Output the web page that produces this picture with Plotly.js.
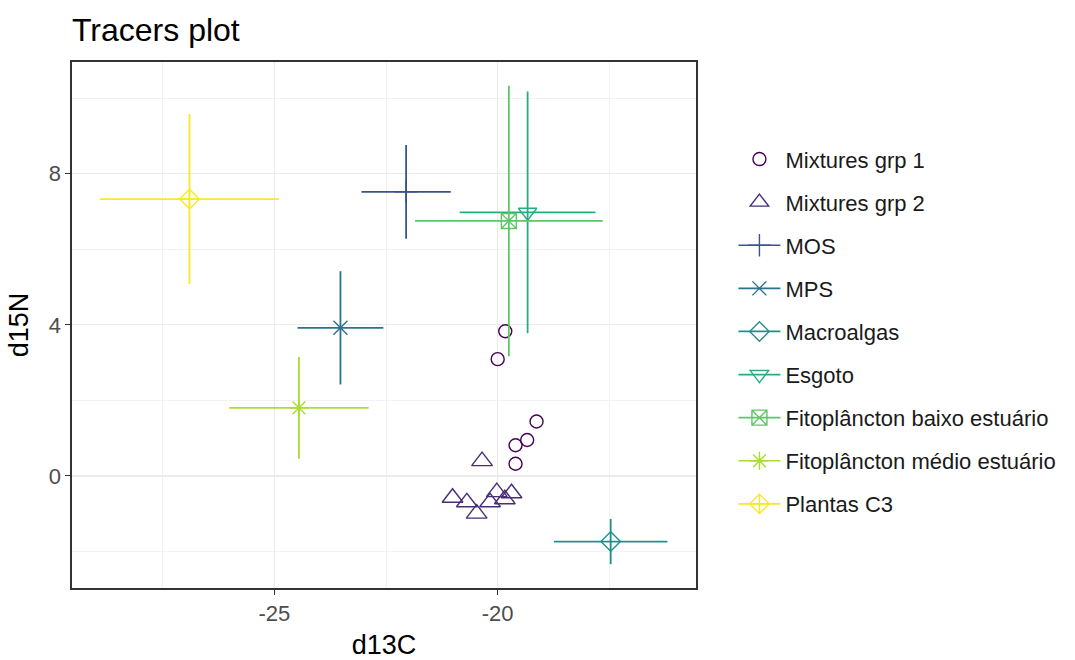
<!DOCTYPE html>
<html>
<head>
<meta charset="utf-8">
<script src="https://cdn.plot.ly/plotly-3.0.1.min.js"></script>
<style>html,body{margin:0;padding:0;background:#fff;}#chart{width:1075px;height:660px;}</style>
</head>
<body>
<div id="chart"></div>
<script>
// Mixtures
var mix1C = [-19.83, -20.0, -19.13, -19.34, -19.6, -19.6];
var mix1N = [3.83, 3.09, 1.44, 0.95, 0.81, 0.32];
var mix2C = [-20.35, -21.01, -20.69, -20.47, -20.17, -20.02, -19.84, -19.69];
var mix2N = [0.39, -0.58, -0.70, -1.0, -0.70, -0.43, -0.62, -0.46];

// Sources (mean ± SD)
var sourceNames = ["MOS", "MPS", "Macroalgas", "Esgoto", "Fitoplâncton baixo estuário", "Fitoplâncton médio estuário", "Plantas C3"];
var meanC = [-22.05, -23.52, -17.47, -19.33, -19.75, -24.45, -26.9];
var sdC   = [1.0, 0.96, 1.27, 1.52, 2.1, 1.56, 2.0];
var meanN = [7.52, 3.92, -1.74, 6.98, 6.75, 1.8, 7.33];
var sdN   = [1.24, 1.5, 0.6, 3.2, 3.58, 1.35, 2.25];

// Tick labels
var xTickVals = [-25, -20];
var xTickText = ["-25", "-20"];
var yTickVals = [0, 4, 8];
var yTickText = ["0", "4", "8"];
var xMinorVals = [-27.5, -22.5, -17.5];
var yMinorVals = [-2, 2, 6, 10];

var colors = ["#440154", "#472D7B", "#3B528B", "#2C728E", "#21908C", "#27AD81", "#5DC863", "#AADC32", "#FDE725"];
var symbols = ["cross-thin-open", "x-thin-open", "diamond-open", "triangle-down-open", "square-x-open", "asterisk-open", "diamond-cross-open"];
var sizes = [16, 14, 15, 16, 15, 15, 15];

var traces = [];
traces.push({
  x: mix1C, y: mix1N, type: "scatter", mode: "markers", name: "Mixtures grp 1", legendgroup: "g0",
  marker: {symbol: "circle-open", size: 13, color: colors[0], line: {width: 1.4, color: colors[0]}}
});
traces.push({
  x: mix2C, y: mix2N, type: "scatter", mode: "markers", name: "Mixtures grp 2", legendgroup: "g1",
  marker: {symbol: "triangle-up-open", size: 18, color: colors[1], line: {width: 1.4, color: colors[1]}}
});
for (var i = 0; i < sourceNames.length; i++) {
  var c = colors[i + 2];
  traces.push({
    x: [meanC[i]], y: [meanN[i]], type: "scatter", mode: "lines+markers", name: sourceNames[i],
    legendgroup: "s" + i,
    line: {color: c, width: 1.7},
    marker: {symbol: symbols[i], size: sizes[i], color: c, line: {width: 1.4, color: c}},
    error_x: {type: "data", array: [sdC[i]], visible: true, color: c, thickness: 1.8, width: 0},
    error_y: {type: "data", array: [sdN[i]], visible: true, color: c, thickness: 1.8, width: 0}
  });
}

var layout = {
  width: 1075, height: 660,
  paper_bgcolor: "#fff", plot_bgcolor: "#fff",
  margin: {l: 72, r: 379, t: 62, b: 72},
  font: {family: "Liberation Sans, Arial, sans-serif", color: "#000"},
  title: {text: "Tracers plot", x: 72/1075, xanchor: "left", xref: "container", y: 0.955, yref: "container", yanchor: "middle",
          font: {size: 32, color: "#000"}},
  showlegend: true,
  legend: {x: 1.06, xanchor: "left", y: 0.855, yanchor: "top", font: {size: 22, color: "#1a1a1a"},
           tracegroupgap: 11.5, bgcolor: "rgba(0,0,0,0)", itemwidth: 42},
  xaxis: {
    range: [-29.53, -15.56], tickmode: "array", tickvals: xTickVals, ticktext: xTickText,
    showgrid: true, gridcolor: "#ebebeb", gridwidth: 1.3,
    minor: {tickmode: "array", tickvals: xMinorVals, showgrid: true, gridcolor: "#f2f2f2", gridwidth: 1, ticks: ""},
    zeroline: false, ticks: "outside", ticklen: 5, tickcolor: "#333", tickwidth: 1.2,
    showline: true, mirror: true, linecolor: "#333", linewidth: 1.6,
    tickfont: {size: 22, color: "#4d4d4d"},
    title: {text: "d13C", font: {size: 27, color: "#000"}, standoff: 13}
  },
  yaxis: {
    range: [-2.97, 10.96], tickmode: "array", tickvals: yTickVals, ticktext: yTickText,
    showgrid: true, gridcolor: "#ebebeb", gridwidth: 1.3,
    minor: {tickmode: "array", tickvals: yMinorVals, showgrid: true, gridcolor: "#f2f2f2", gridwidth: 1, ticks: ""},
    zeroline: false, ticks: "outside", ticklen: 5, tickcolor: "#333", tickwidth: 1.2,
    showline: true, mirror: true, linecolor: "#333", linewidth: 1.6,
    tickfont: {size: 22, color: "#4d4d4d"},
    title: {text: "d15N", font: {size: 27, color: "#000"}, standoff: 12}
  }
};

Plotly.newPlot("chart", traces, layout, {displayModeBar: false, staticPlot: true});
</script>
</body>
</html>
